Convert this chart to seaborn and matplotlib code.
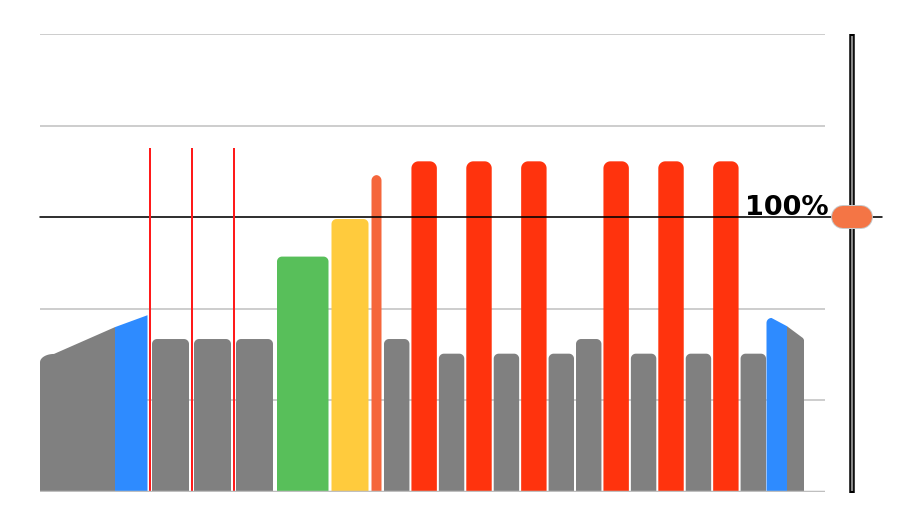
import numpy as np
import matplotlib
matplotlib.use("Agg")
import matplotlib.pyplot as plt
from matplotlib.patches import Polygon
import seaborn as sns

# ---------------- data ----------------
# left area series (heights at its breakpoints: start, colour change, end)
area_left_values = [1.44, 1.80, 1.93]
area_left_colors = ["gray", "blue"]
# right area series
area_right_values = [1.90, 1.81, 1.66]
area_right_colors = ["blue", "gray"]
# bars, left to right
bar_kinds = ["gray", "gray", "gray", "green", "yellow", "orange",
             "gray", "red", "gray", "red", "gray", "red", "gray", "gray",
             "red", "gray", "red", "gray", "red", "gray"]
bar_values = [1.67, 1.67, 1.67, 2.57, 2.98, 3.46,
              1.67, 3.61, 1.51, 3.61, 1.51, 3.61, 1.51, 1.67,
              3.61, 1.51, 3.61, 1.51, 3.61, 1.51]
# thin red markers in front of the first three bars
marker_values = [3.76, 3.76, 3.76]
target_value = 3.0
target_label = "100%"

# ---------------- layout / style ----------------
palette = {"gray": "#808080", "blue": "#2E8BFF", "green": "#58BF5A",
           "yellow": "#FFCB3D", "orange": "#F5663B", "red": "#FF330D"}
slot_widths = [42, 42, 42, 54.5, 40, 13] + [27.43] * 14
bar_insets = [2.5, 2.5, 2.5, 1.5, 1.5, 1.5] + [1.0] * 14
bar_radius = [5, 5, 5, 5, 5, 5.5, 5, 7, 5, 7, 5, 7, 5, 5, 7, 5, 7, 5, 7, 5]
area_left_x = [40, 115, 147.5]
area_right_x = [766.5, 787, 804]
slots_start = 149.5

sns.set_theme(style="white")
fig = plt.figure(figsize=(9, 5.2), dpi=100)
ax = fig.add_axes([40 / 900, (520 - 492) / 520, 785 / 900, 458 / 520])
ax.set_xlim(40, 825)
ax.set_ylim(0, 5)
ax.axis("off")

PX_Y = 458 / 5.0  # pixels per y unit
PT = 0.72         # points per pixel


def rounded_bar(x0, x1, h, r, color):
    ry = r / PX_Y
    t = np.linspace(0, np.pi / 2, 12)
    left_arc = [(x0 + r - r * np.cos(a), h - ry + ry * np.sin(a)) for a in t]
    right_arc = [(x1 - r + r * np.sin(a), h - ry + ry * np.cos(a)) for a in t]
    pts = [(x0, 0)] + left_arc + right_arc + [(x1, 0)]
    ax.add_patch(Polygon(pts, closed=True, facecolor=color, edgecolor="none", zorder=2))


# gridlines
for g in [1, 2, 4, 5]:
    ax.axhline(g, color="#c2c2c2", lw=1.6 * PT, zorder=0)
ax.axhline(0, color="#bfbfbf", lw=2.5 * PT, zorder=5)

# left area
xs, vs = area_left_x, area_left_values
for i, c in enumerate(area_left_colors):
    x0, x1 = xs[i], xs[i + 1]
    h0, h1 = vs[i], vs[i + 1]
    if i == 0:
        r = 14
        slope = (h1 - h0) / (x1 - x0)
        t = np.linspace(0, np.pi / 2, 16)
        top = h0 + slope * r
        corner = [(x0 + r - r * np.cos(a), top - (r * 0.6 / PX_Y) * (1 - np.sin(a))) for a in t]
        pts = [(x0, 0)] + corner + [(x1, h1), (x1, 0)]
    else:
        pts = [(x0, 0), (x0, h0), (x1, h1), (x1, 0)]
    ax.add_patch(Polygon(pts, closed=True, facecolor=palette[c], edgecolor="none", zorder=2))

# right area
xs, vs = area_right_x, area_right_values
for i, c in enumerate(area_right_colors):
    x0, x1 = xs[i], xs[i + 1]
    h0, h1 = vs[i], vs[i + 1]
    if i == 0:
        r = 5
        t = np.linspace(0, np.pi / 2, 10)
        corner = [(x0 + r - r * np.cos(a), h0 - (r / PX_Y) + (r / PX_Y) * np.sin(a)) for a in t]
        pts = [(x0, 0)] + corner + [(x1, h1), (x1, 0)]
    else:
        pts = [(x0, 0), (x0, h0), (x1 - 1, h1 + 0.02), (x1, h1), (x1, 0)]
    ax.add_patch(Polygon(pts, closed=True, facecolor=palette[c], edgecolor="none", zorder=2))

# bars
lefts = slots_start + np.concatenate([[0], np.cumsum(slot_widths)[:-1]])
for left, w, ins, v, k, r in zip(lefts, slot_widths, bar_insets, bar_values, bar_kinds, bar_radius):
    rounded_bar(left + ins, left + w - ins, v, r, palette[k])

# thin red markers
for left, v in zip(lefts[:3], marker_values):
    ax.vlines(left + 0.5, 0, v, color="#FF1A1A", lw=2 * PT, zorder=4)

# 100% target line
ax.axhline(target_value, xmin=0, xmax=(882 - 40) / 785, color="black",
           lw=1.6 * PT, zorder=3, clip_on=False)
ax.text(829, target_value + 2.5 / PX_Y, target_label, ha="right", va="baseline",
        fontsize=19.5, fontweight="bold", color="black", family="DejaVu Sans",
        zorder=6, clip_on=False)

# slider on the right
ax.plot([852, 852], [-0.01, 5.0], color="black", lw=5.5 * PT,
        solid_capstyle="butt", clip_on=False, zorder=6)
ax.plot([852, 852], [0.01, 4.98], color="#8a8a8a", lw=2.2 * PT,
        solid_capstyle="butt", clip_on=False, zorder=7)
ax.plot([843, 861], [target_value, target_value], color="#c8c8c8", lw=24 * PT,
        solid_capstyle="round", clip_on=False, zorder=8)
ax.plot([843, 861], [target_value, target_value], color="#F47545", lw=22 * PT,
        solid_capstyle="round", clip_on=False, zorder=9)

fig.savefig("out.png", dpi=100, facecolor="white")
